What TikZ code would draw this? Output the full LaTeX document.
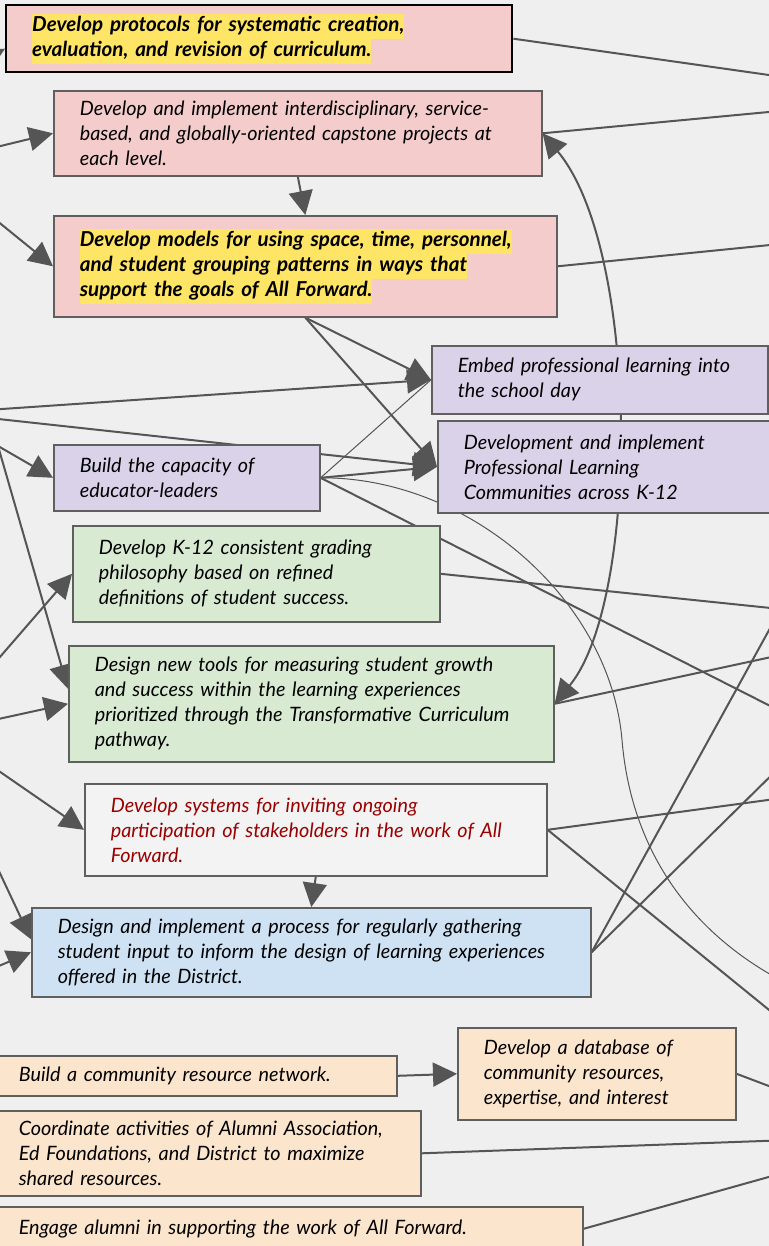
\documentclass[tikz,border=0pt]{standalone}
\usepackage{fontspec}
\setmainfont{Lato}
\usetikzlibrary{arrows.meta,calc,backgrounds}
\definecolor{pagegray}{HTML}{EFEFEF}
\definecolor{edgegray}{HTML}{5F5F5F}
\definecolor{linkgray}{HTML}{555555}
\definecolor{pinkfill}{HTML}{F4CCCC}
\definecolor{lilacfill}{HTML}{D9D2E9}
\definecolor{greenfill}{HTML}{D9EAD3}
\definecolor{bluefill}{HTML}{CFE2F3}
\definecolor{peachfill}{HTML}{FCE5CD}
\definecolor{plainfill}{HTML}{F3F3F3}
\definecolor{hiyellow}{HTML}{FFE566}
\definecolor{darkred}{HTML}{990000}
\newcommand{\hilite}[1]{{\setlength{\fboxsep}{0pt}\colorbox{hiyellow}{\strut#1}}}
\tikzset{goal/.style={draw=edgegray,line width=0.8pt,anchor=north west,align=left,
  inner xsep=13pt,inner ysep=0pt,font=\fontsize{9.9}{12.5}\selectfont\itshape}}
\tikzset{keygoal/.style={goal,font=\fontsize{10.3}{12.5}\selectfont\bfseries\itshape}}
\tikzset{link/.style={draw=linkgray,line width=1pt}}
\tikzset{thinlink/.style={draw=linkgray,line width=0.5pt}}

\begin{document}
\begin{tikzpicture}[x=0.5pt,y=-0.5pt,>={Triangle[length=12pt,width=12pt]}]
\useasboundingbox (0,0) rectangle (769,1246);
\begin{scope}[on background layer]
\fill[pagegray] (0,0) rectangle (769,1246);
\end{scope}
% pathway boxes
\node (pone) [keygoal,fill=pinkfill,draw=black,line width=1.2pt,text width=227pt,minimum height=33.5pt] at (5,4)
  {\hilite{Develop protocols for systematic creation,}\\\hilite{evaluation, and revision of curriculum.}};
\node (ptwo) [goal,fill=pinkfill,text width=218pt,minimum height=42.5pt] at (53,90)
  {Develop and implement interdisciplinary, service-\\based, and globally-oriented capstone projects at\\each level.};
\node (pthree) [keygoal,fill=pinkfill,text width=225.5pt,minimum height=50.5pt] at (53,215)
  {\hilite{Develop models for using space, time, personnel,}\\\hilite{and student grouping patterns in ways that}\\\hilite{support the goals of All Forward.}};
\node (eone) [goal,fill=lilacfill,text width=142pt,minimum height=34pt] at (431,345)
  {Embed professional learning into\\the school day};
\node (etwo) [goal,fill=lilacfill,text width=144pt,minimum height=46pt] at (437,420)
  {Development and implement\\Professional Learning\\Communities across K-12};
\node (bone) [goal,fill=lilacfill,text width=107pt,minimum height=33pt] at (53,444)
  {Build the capacity of\\educator-leaders};
\node (gone) [goal,fill=greenfill,text width=157.5pt,minimum height=48pt] at (72,525)
  {Develop K-12 consistent grading\\philosophy based on refined\\definitions of student success.};
\node (gtwo) [goal,fill=greenfill,text width=216.5pt,minimum height=58pt] at (68,645)
  {Design new tools for measuring student growth\\and success within the learning experiences\\prioritized through the Transformative Curriculum\\pathway.};
\node (sone) [goal,fill=plainfill,text=darkred,text width=205pt,minimum height=46pt] at (84,783)
  {Develop systems for inviting ongoing\\participation of stakeholders in the work of All\\Forward.};
\node (done) [goal,fill=bluefill,text width=253.5pt,minimum height=44.5pt] at (31,907)
  {Design and implement a process for regularly gathering\\student input to inform the design of learning experiences\\offered in the District.};
\node (oone) [goal,fill=peachfill,inner xsep=10pt,text width=179pt,minimum height=20pt] at (-2,1055)
  {Build a community resource network.};
\node (otwo) [goal,fill=peachfill,text width=113pt,minimum height=46pt] at (457,1027)
  {Develop a database of\\community resources,\\expertise, and interest};
\node (othree) [goal,fill=peachfill,inner xsep=10pt,text width=191pt,minimum height=42.5pt] at (-2,1110)
  {Coordinate activities of Alumni Association,\\Ed Foundations, and District to maximize\\shared resources.};
\node (ofour) [goal,fill=peachfill,inner xsep=10pt,text width=272pt,minimum height=22pt] at (-2,1206)
  {Engage alumni in supporting the work of All Forward.};
% ends that leave the page
\coordinate (lpone) at (-30,68);
\coordinate (lptwo) at (-20,151);
\coordinate (lpthree) at (-20,207);
\coordinate (leone) at (-20,410.5);
\coordinate (letwo) at (-20,417);
\coordinate (lfork) at (-2,446);
\coordinate (lgone) at (-20,680);
\coordinate (lgtwo) at (-20,723);
\coordinate (lsone) at (-20,758);
\coordinate (ldone) at (-10,852);
\coordinate (ldtwo) at (-20,974);
\coordinate (rpone) at (790,78);
\coordinate (rptwo) at (790,110);
\coordinate (rpthree) at (790,243);
\coordinate (reone) at (790,379);
\coordinate (rbone) at (790,716);
\coordinate (rcurve) at (790,985);
\coordinate (rgone) at (790,610);
\coordinate (rgtwo) at (790,653);
\coordinate (rsone) at (790,797);
\coordinate (rsdown) at (790,1027);
\coordinate (rdup) at (790,592);
\coordinate (rdmid) at (790,757);
\coordinate (rotwo) at (790,1094);
\coordinate (rothree) at (790,1140);
\coordinate (rofour) at (790,1171);
%
\begin{scope}[on background layer]
\draw[link,->] (lpone) -- ($(pone.west)+(0,10)$);
\draw[link] (pone.east) -- (rpone);
\draw[link,->] (lptwo) -- (ptwo.west);
\draw[link] (ptwo.east) -- (rptwo);
\draw[link,->] (lpthree) -- (pthree.west);
\draw[link] (pthree.east) -- (rpthree);
\draw[link,->] (ptwo.south) -- (pthree.north);
\draw[link,->] (pthree.south) -- (eone.west);
\draw[link,->] (pthree.south) -- (etwo.west);
\draw[link,->] (leone) -- (eone.west);
\draw[link,->] (letwo) -- (etwo.west);
\draw[link] (eone.east) -- (reone);
\draw[link,->] (bone.east) -- (etwo.west);
\draw[thinlink] (bone.east) -- (eone.west);
\draw[link] (bone.east) -- (rbone);
\draw[thinlink] (bone.east) .. controls (470,477) and (610,600) .. (622,740)
  .. controls (632,860) and (700,940) .. (rcurve);
\draw[link,->] (lfork) -- (bone.west);
\draw[link,->] (lfork) -- ($(gtwo.west)+(0,-15)$);
\draw[link,->] (lgone) -- (gone.west);
\draw[link] (gone.east) -- (rgone);
\draw[link,->] (lgtwo) -- (gtwo.west);
\draw[link] (gtwo.east) -- (rgtwo);
\draw[link,<->] (gtwo.east) .. controls (640,600) and (640,250) .. (ptwo.east);
\draw[link,->] (lsone) -- (sone.west);
\draw[link,->] (sone.south) -- (done.north);
\draw[link] (sone.east) -- (rsone);
\draw[link] (sone.east) -- (rsdown);
\draw[link,->] (ldone) -- ($(done.west)+(0,-13)$);
\draw[link,->] (ldtwo) -- (done.west);
\draw[link] (done.east) -- (rdup);
\draw[link] (done.east) -- (rdmid);
\draw[link,->] (oone.east) -- (otwo.west);
\draw[link] (otwo.east) -- (rotwo);
\draw[link] (othree.east) -- (rothree);
\draw[link] (ofour.east) -- (rofour);
\end{scope}
\end{tikzpicture}
\end{document}
